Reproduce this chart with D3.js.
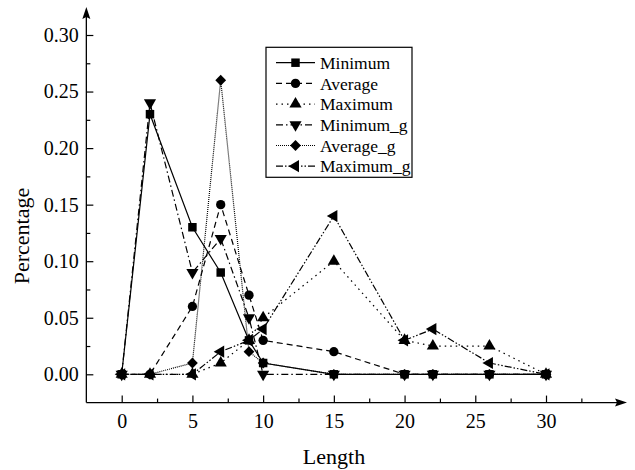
<!DOCTYPE html>
<html>
<head>
<meta charset="utf-8">
<script src="https://cdn.jsdelivr.net/npm/d3@7"></script>
<style>
  body { margin: 0; background: #fff; }
  svg { display: block; }
  svg text { font-family: 'Liberation Serif', 'Times New Roman', serif; }
</style>
</head>
<body>
<div id="chart"></div>
<script>
// Data
var lengths = [0, 2, 5, 7, 9, 10, 15, 20, 22, 26, 30];
var minimum = [0, 0.23, 0.13, 0.09, 0.03, 0.01, 0, 0, 0, 0, 0];
var average = [0, 0, 0.06, 0.15, 0.07, 0.03, 0.02, 0, 0, 0, 0];
var maximum = [0, 0, 0, 0.01, 0.03, 0.05, 0.10, 0.03, 0.025, 0.025, 0];
var minimumG = [0, 0.24, 0.09, 0.12, 0.05, 0, 0, 0, 0, 0, 0];
var averageG = [0, 0, 0.01, 0.26, 0.02, 0.01, 0, 0, 0, 0, 0];
var maximumG = [0, 0, 0, 0.02, 0.03, 0.04, 0.14, 0.03, 0.04, 0.01, 0];
var seriesNames = ['Minimum', 'Average', 'Maximum', 'Minimum_g', 'Average_g', 'Maximum_g'];
var xTicks = [0, 5, 10, 15, 20, 25, 30];
var yTicks = [0, 0.05, 0.10, 0.15, 0.20, 0.25, 0.30];
var minorX = [2.5, 7.5, 12.5, 17.5, 22.5, 27.5, 32.5];
var minorY = [0.025, 0.075, 0.125, 0.175, 0.225, 0.275];

var width = 635;
var height = 470;

var xScale = d3.scaleLinear().domain([0, 30]).range([121.7, 546]);
var yScale = d3.scaleLinear().domain([0, 0.30]).range([374.3, 35]);

// the axes cross one minor step below/left of the origin
var axisX = xScale(-2.5);
var axisY = yScale(-0.025);

var svg = d3.select('#chart')
  .append('svg')
  .attr('width', width)
  .attr('height', height);

// line dash and marker shape for each series
var styles = [
  { dash: null, symbol: d3.symbolSquare, size: 72, rotate: 0 },
  { dash: '6,4', symbol: d3.symbolCircle, size: 68, rotate: 0 },
  { dash: '1.5,4', symbol: d3.symbolTriangle, size: 64, rotate: 0 },
  { dash: '7,3,1.5,3', symbol: d3.symbolTriangle, size: 64, rotate: 180 },
  { dash: '1,1', symbol: d3.symbolSquare, size: 58, rotate: 45 },
  { dash: '7,2,1.5,2,1.5,2', symbol: d3.symbolTriangle, size: 64, rotate: -90 }
];

var allValues = [minimum, average, maximum, minimumG, averageG, maximumG];

var xAxis = d3.axisBottom(xScale)
  .tickValues(xTicks)
  .tickSize(-7)
  .tickPadding(11)
  .tickFormat(d3.format('d'));

var xMinor = d3.axisBottom(xScale)
  .tickValues(minorX)
  .tickSize(-4)
  .tickFormat('');

var yAxis = d3.axisLeft(yScale)
  .tickValues(yTicks)
  .tickSize(-7)
  .tickPadding(7.5)
  .tickFormat(d3.format('.2f'));

var yMinor = d3.axisLeft(yScale)
  .tickValues(minorY)
  .tickSize(-4)
  .tickFormat('');

function styleAxis(g) {
  g.attr('font-family', null).attr('font-size', null);
  g.select('.domain').remove();
  g.selectAll('line').attr('stroke', '#000').attr('stroke-width', 1.2);
  g.selectAll('text')
    .attr('fill', '#000')
    .style('font-size', '20px');
}

svg.append('g')
  .attr('transform', 'translate(0,' + axisY + ')')
  .call(xAxis)
  .call(styleAxis);

svg.append('g')
  .attr('transform', 'translate(0,' + axisY + ')')
  .call(xMinor)
  .call(styleAxis);

svg.append('g')
  .attr('transform', 'translate(' + axisX + ',0)')
  .call(yAxis)
  .call(styleAxis);

svg.append('g')
  .attr('transform', 'translate(' + axisX + ',0)')
  .call(yMinor)
  .call(styleAxis);

// axis lines with arrow heads
svg.append('line')
  .attr('x1', axisX).attr('y1', axisY)
  .attr('x2', 618).attr('y2', axisY)
  .attr('stroke', '#000').attr('stroke-width', 1.3);
svg.append('path')
  .attr('d', 'M627,' + axisY + ' L615,' + (axisY - 4) + ' L617,' + axisY + ' L615,' + (axisY + 4) + ' Z')
  .attr('fill', '#000');

svg.append('line')
  .attr('x1', axisX).attr('y1', axisY)
  .attr('x2', axisX).attr('y2', 16)
  .attr('stroke', '#000').attr('stroke-width', 1.3);
svg.append('path')
  .attr('d', 'M' + axisX + ',7 L' + (axisX - 4) + ',19 L' + axisX + ',17 L' + (axisX + 4) + ',19 Z')
  .attr('fill', '#000');

// axis titles
svg.append('text')
  .attr('x', 334)
  .attr('y', 464)
  .attr('text-anchor', 'middle')
  .style('font-size', '22px')
  .text('Length');

svg.append('text')
  .attr('transform', 'translate(29,236) rotate(-90)')
  .attr('text-anchor', 'middle')
  .style('font-size', '22px')
  .text('Percentage');

var line = d3.line()
  .x(function(d) { return xScale(d[0]); })
  .y(function(d) { return yScale(d[1]); });

function marker(g, s, x, y) {
  g.append('path')
    .attr('d', d3.symbol().type(s.symbol).size(s.size)())
    .attr('transform', 'translate(' + x + ',' + y + ') rotate(' + s.rotate + ')')
    .attr('fill', '#000');
}

var plot = svg.append('g');

allValues.forEach(function(values, i) {
  var s = styles[i];
  var pts = lengths.map(function(l, j) { return [l, values[j]]; });
  var g = plot.append('g');
  g.append('path')
    .datum(pts)
    .attr('d', line)
    .attr('fill', 'none')
    .attr('stroke', '#000')
    .attr('stroke-width', 1.2)
    .attr('stroke-dasharray', s.dash);
  pts.forEach(function(p) {
    marker(g, s, xScale(p[0]), yScale(p[1]));
  });
});

// legend
var legend = svg.append('g');
legend.append('rect')
  .attr('x', 266).attr('y', 47.3)
  .attr('width', 146).attr('height', 130)
  .attr('fill', '#fff')
  .attr('stroke', '#000')
  .attr('stroke-width', 1.2);

seriesNames.forEach(function(name, i) {
  var s = styles[i];
  var y = 62.7 + i * 20.7;
  legend.append('line')
    .attr('x1', 276).attr('x2', 315)
    .attr('y1', y).attr('y2', y)
    .attr('stroke', '#000')
    .attr('stroke-width', 1.2)
    .attr('stroke-dasharray', s.dash);
  marker(legend, s, 295.5, y);
  legend.append('text')
    .attr('x', 320)
    .attr('y', y)
    .attr('dy', '0.35em')
    .style('font-size', '17.5px')
    .text(name);
});
</script>
</body>
</html>
